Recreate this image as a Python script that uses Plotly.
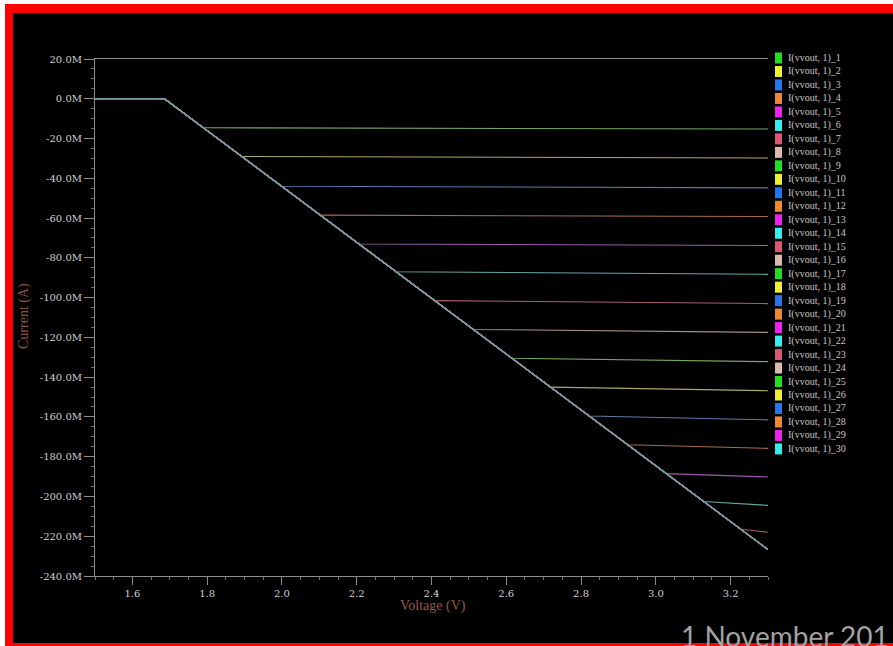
import plotly.graph_objects as go

# ---------------- data ----------------
# voltage sweep end points and turn-on point (V)
v_start = 1.5
v_on = 1.686
v_end = 3.3
# current where the common ramp ends at v_end (mA)
i_ramp_end = -226.7

# series names
series_names = [f"I(vvout, 1)_{k}" for k in range(1, 31)]

# knee (where each curve leaves the ramp) for series 1..15; series 16..30 stay on the ramp
knee_v = [1.790, 1.893, 1.999, 2.102, 2.206, 2.305, 2.408, 2.512, 2.615, 2.718,
          2.821, 2.925, 3.028, 3.128, 3.227]
knee_i = [-14.6, -29.0, -44.0, -58.5, -73.0, -87.0, -101.5, -116.0, -130.5, -145.0,
          -159.5, -174.0, -188.5, -202.5, -216.5]
# current at v_end for series 1..15 (mA)
end_i = [-15.2, -29.8, -44.8, -59.2, -73.8, -88.3, -103.0, -117.5, -132.2, -146.8,
         -161.5, -175.8, -190.2, -204.5, -218.0]

# axis ticks
x_ticks = [1.6, 1.8, 2.0, 2.2, 2.4, 2.6, 2.8, 3.0, 3.2]
y_ticks = [20, 0, -20, -40, -60, -80, -100, -120, -140, -160, -180, -200, -220, -240]
y_tick_text = [f"{v:.1f}M" for v in y_ticks]

# colour cycle (legend swatches and muted line colours)
swatch_colors = ["#22dd22", "#eeee33", "#2277ee", "#ee8833", "#ee22ee", "#33eeee", "#dd5577", "#ddbbaa"]
line_colors = ["#74a866", "#aca86a", "#5f78a8", "#a86a4c", "#9a5ca8", "#66a8a4", "#a8606e", "#a89484"]

# ---------------- layout helpers ----------------
W, H = 893, 646
L, R, T, B = 95, 768, 59, 576


def xp(px):
    return (px - L) / (R - L)


def yp(py):
    return (B - py) / (B - T)


def frame_rect(x0, y0, x1, y1, color, layer="below"):
    return dict(type="rect", xref="paper", yref="paper", x0=xp(x0), x1=xp(x1),
                y0=yp(y1), y1=yp(y0), fillcolor=color, line=dict(width=0), layer=layer)


fig = go.Figure()

for k, name in enumerate(series_names):
    if k < len(knee_v):
        xs = [v_start, v_on, knee_v[k], v_end]
        ys = [0, 0, knee_i[k], end_i[k]]
    else:
        xs = [v_start, v_on, v_end]
        ys = [0, 0, i_ramp_end]
    fig.add_trace(go.Scatter(
        x=xs, y=ys, mode="lines", name=name, showlegend=False,
        line=dict(color=line_colors[k % 8], width=1.1),
        hoverinfo="x+y+name",
    ))

# slide frame: white edge, red border (top, left, bottom), black inside
shapes = [
    frame_rect(0, 0, W, 4, "#ffffff"),
    frame_rect(0, 0, 5, H, "#ffffff"),
    frame_rect(5, 4, W, 13, "#ff0000"),
    frame_rect(5, 4, 13, H, "#ff0000"),
    frame_rect(5, 643, W, H, "#ff0000"),
    frame_rect(870, 13, W + 30, 643, "#000000", layer="above"),
]
annotations = []

# legend drawn manually (compact 13.5 px rows like the reference)
for k, name in enumerate(series_names):
    cy = 58 + 13.48 * k
    shapes.append(dict(type="rect", xref="paper", yref="paper",
                       x0=xp(775), x1=xp(782), y0=yp(cy + 5.5), y1=yp(cy - 5.5),
                       fillcolor=swatch_colors[k % 8], line=dict(width=0), layer="above"))
    annotations.append(dict(xref="paper", yref="paper", x=xp(786), y=yp(cy),
                            xanchor="left", yanchor="middle", showarrow=False, text=name,
                            font=dict(family="Liberation Serif", size=10, color="#c8c8c8")))

# axis titles
annotations.append(dict(xref="paper", yref="paper", x=xp(433), y=yp(606), text="Voltage (V)",
                        showarrow=False, xanchor="center", yanchor="middle",
                        font=dict(family="Liberation Serif", size=14, color="#94584a")))
annotations.append(dict(xref="paper", yref="paper", x=xp(24), y=yp(316), text="Current (A)",
                        showarrow=False, xanchor="center", yanchor="middle", textangle=-90,
                        font=dict(family="Liberation Serif", size=14, color="#8a5446")))
# slide footer
annotations.append(dict(xref="paper", yref="paper", x=xp(679), y=yp(636), text="1 November 201",
                        showarrow=False, xanchor="left", yanchor="middle",
                        font=dict(family="Lato", size=28, color="#a2a2a2")))

tickfont = dict(family="DejaVu Serif", size=10, color="#d0d0d0")

fig.update_layout(
    width=W, height=H,
    margin=dict(l=L, r=W - R, t=T, b=H - B, pad=0),
    paper_bgcolor="#000000",
    plot_bgcolor="#000000",
    showlegend=False,
    shapes=shapes,
    annotations=annotations,
    xaxis=dict(
        range=[v_start, v_end], tickvals=x_ticks, tickformat=".1f",
        showgrid=False, zeroline=False, showline=True, linecolor="#8c8c8c", linewidth=1,
        mirror=True, ticks="outside", ticklen=8, tickcolor="#8c8c8c", tickfont=tickfont,
        minor=dict(dtick=0.05, ticks="outside", ticklen=3, tickcolor="#6c6c6c", showgrid=False),
        automargin=False,
    ),
    yaxis=dict(
        range=[-240, 20], tickvals=y_ticks, ticktext=y_tick_text,
        showgrid=False, zeroline=False, showline=True, linecolor="#8c8c8c", linewidth=1,
        ticks="outside", ticklen=10, tickcolor="#8c8c8c", tickfont=tickfont,
        minor=dict(dtick=5, ticks="outside", ticklen=3, tickcolor="#6c6c6c", showgrid=False),
        automargin=False,
    ),
)

fig.write_html("out.html", config={"displayModeBar": False},
               post_script=("document.body.style.margin='0';"
                            "document.body.style.background='#000';"
                            "document.body.style.overflow='hidden';"
                            "document.documentElement.style.overflow='hidden';"))
